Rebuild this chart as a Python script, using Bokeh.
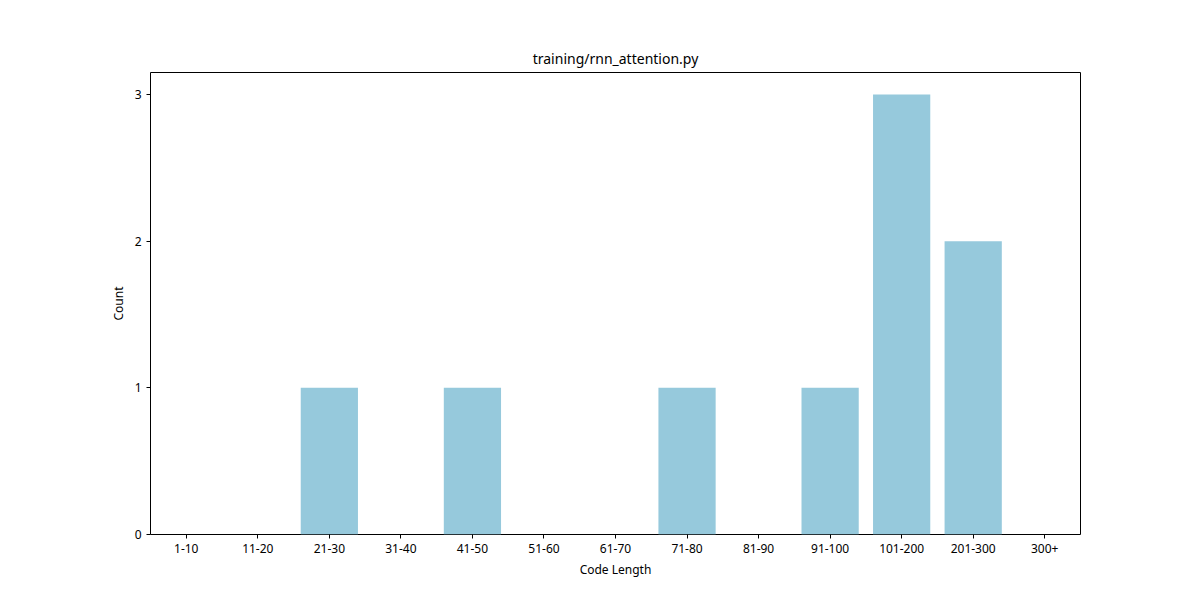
from bokeh.plotting import figure
from bokeh.models import Range1d, FactorRange
from bokeh.embed import file_html
from bokeh.resources import INLINE

categories = ["1-10","11-20","21-30","31-40","41-50","51-60","61-70","71-80","81-90","91-100","101-200","201-300","300+"]
counts = [0,0,1,0,1,0,0,1,0,1,3,2,0]

p = figure(x_range=FactorRange(*categories, range_padding=0), y_range=Range1d(0, 3.15),
           width=1184, height=584, output_backend="svg", toolbar_location=None,
           title="training/rnn_attention.py",
           min_border_left=150, min_border_right=104, min_border_top=72, min_border_bottom=50)
p.vbar(x=categories, top=counts, width=0.8, fill_color="#96c9dc", line_color=None)
p.title.align = "center"
p.title.text_font = "Noto Sans"
p.title.text_font_style = "normal"
p.title.text_font_size = "14px"
p.title.text_color = "black"
p.xaxis.axis_label = "Code Length"
p.yaxis.axis_label = "Count"
for ax in (p.xaxis, p.yaxis):
    ax.axis_label_text_font = "Noto Sans"
    ax.axis_label_text_font_style = "normal"
    ax.axis_label_text_font_size = "12px"
    ax.axis_label_text_color = "black"
    ax.major_label_text_font = "Noto Sans"
    ax.major_label_text_font_size = "12px"
    ax.major_label_text_color = "black"
    ax.minor_tick_line_color = None
    ax.major_tick_line_color = "black"
    ax.major_tick_out = 4
    ax.major_tick_in = 0
    ax.axis_line_color = None
p.yaxis.ticker = [0, 1, 2, 3]
p.xgrid.grid_line_color = None
p.ygrid.grid_line_color = None
p.outline_line_color = "black"
p.outline_line_alpha = 1

open("out.html", "w").write(file_html(p, INLINE))
